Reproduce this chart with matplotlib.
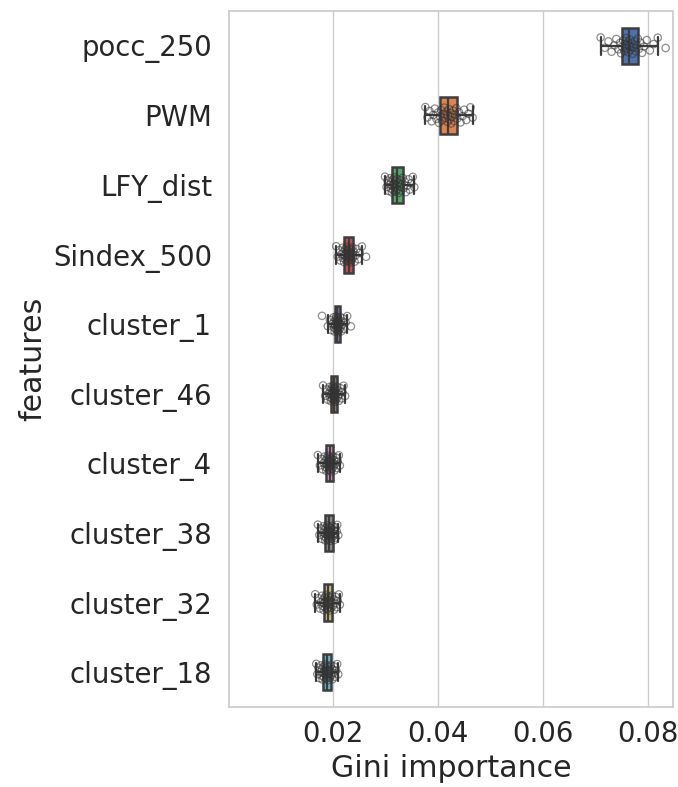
import numpy as np
import seaborn as sns
from matplotlib import pyplot as plt

sns.set_theme(style="whitegrid", font_scale=1.8)

features = ["pocc_250", "PWM", "LFY_dist", "Sindex_500", "cluster_1",
            "cluster_46", "cluster_4", "cluster_38", "cluster_32", "cluster_18"]

# Gini importance per repeat
pocc_250 = [0.0710, 0.0718, 0.0725, 0.0731, 0.0736, 0.0740, 0.0744, 0.0747, 0.0749, 0.0751, 0.0753, 0.0755,
            0.0757, 0.0759, 0.0760, 0.0762, 0.0763, 0.0764, 0.0766, 0.0767, 0.0769, 0.0771, 0.0773, 0.0775,
            0.0777, 0.0779, 0.0781, 0.0783, 0.0786, 0.0789, 0.0793, 0.0798, 0.0804, 0.0811, 0.0819, 0.0834]
pwm = [0.0376, 0.0380, 0.0384, 0.0388, 0.0391, 0.0394, 0.0397, 0.0400, 0.0402, 0.0404, 0.0406, 0.0408,
       0.0410, 0.0412, 0.0414, 0.0416, 0.0418, 0.0419, 0.0421, 0.0422, 0.0424, 0.0425, 0.0427, 0.0429,
       0.0431, 0.0433, 0.0435, 0.0437, 0.0440, 0.0443, 0.0447, 0.0450, 0.0454, 0.0458, 0.0462, 0.0466]
lfy_dist = [0.0299, 0.0302, 0.0304, 0.0306, 0.0308, 0.0309, 0.0310, 0.0311, 0.0312, 0.0313, 0.0314, 0.0315,
            0.0316, 0.0317, 0.0318, 0.0319, 0.0320, 0.0321, 0.0322, 0.0323, 0.0324, 0.0325, 0.0326, 0.0328,
            0.0329, 0.0331, 0.0333, 0.0335, 0.0337, 0.0339, 0.0341, 0.0344, 0.0346, 0.0349, 0.0352, 0.0355]
sindex_500 = [0.0206, 0.0209, 0.0212, 0.0214, 0.0216, 0.0218, 0.0219, 0.0220, 0.0221, 0.0222, 0.0223, 0.0224,
              0.0225, 0.0226, 0.0227, 0.0228, 0.0229, 0.0230, 0.0231, 0.0231, 0.0232, 0.0233, 0.0233, 0.0234,
              0.0235, 0.0236, 0.0237, 0.0238, 0.0239, 0.0241, 0.0243, 0.0245, 0.0248, 0.0251, 0.0255, 0.0263]
cluster_1 = [0.0179, 0.0190, 0.0194, 0.0197, 0.0199, 0.0201, 0.0202, 0.0203, 0.0203, 0.0204, 0.0205, 0.0205,
             0.0206, 0.0206, 0.0207, 0.0207, 0.0208, 0.0208, 0.0209, 0.0209, 0.0210, 0.0210, 0.0211, 0.0211,
             0.0212, 0.0213, 0.0214, 0.0214, 0.0215, 0.0216, 0.0217, 0.0219, 0.0221, 0.0224, 0.0227, 0.0234]
cluster_46 = [0.0181, 0.0185, 0.0188, 0.0190, 0.0192, 0.0193, 0.0194, 0.0195, 0.0196, 0.0196, 0.0197, 0.0198,
              0.0198, 0.0199, 0.0200, 0.0200, 0.0201, 0.0201, 0.0202, 0.0203, 0.0203, 0.0204, 0.0205, 0.0205,
              0.0206, 0.0207, 0.0208, 0.0209, 0.0210, 0.0211, 0.0212, 0.0214, 0.0216, 0.0218, 0.0220, 0.0223]
cluster_4 = [0.0171, 0.0175, 0.0178, 0.0180, 0.0182, 0.0184, 0.0185, 0.0186, 0.0187, 0.0187, 0.0188, 0.0189,
             0.0190, 0.0190, 0.0191, 0.0192, 0.0193, 0.0193, 0.0194, 0.0195, 0.0195, 0.0196, 0.0197, 0.0197,
             0.0198, 0.0199, 0.0200, 0.0201, 0.0202, 0.0203, 0.0204, 0.0206, 0.0207, 0.0209, 0.0211, 0.0213]
cluster_38 = [0.0171, 0.0174, 0.0177, 0.0179, 0.0181, 0.0182, 0.0183, 0.0184, 0.0185, 0.0185, 0.0186, 0.0187,
              0.0188, 0.0189, 0.0189, 0.0190, 0.0191, 0.0191, 0.0192, 0.0193, 0.0193, 0.0194, 0.0195, 0.0196,
              0.0197, 0.0198, 0.0199, 0.0200, 0.0201, 0.0202, 0.0203, 0.0204, 0.0205, 0.0207, 0.0208, 0.0210]
cluster_32 = [0.0166, 0.0169, 0.0172, 0.0175, 0.0177, 0.0179, 0.0180, 0.0181, 0.0182, 0.0183, 0.0184, 0.0185,
              0.0186, 0.0187, 0.0188, 0.0188, 0.0189, 0.0190, 0.0191, 0.0192, 0.0193, 0.0193, 0.0194, 0.0195,
              0.0196, 0.0197, 0.0198, 0.0200, 0.0201, 0.0202, 0.0204, 0.0205, 0.0207, 0.0209, 0.0211, 0.0213]
cluster_18 = [0.0168, 0.0170, 0.0172, 0.0174, 0.0176, 0.0177, 0.0178, 0.0179, 0.0180, 0.0181, 0.0182, 0.0183,
              0.0184, 0.0185, 0.0186, 0.0186, 0.0187, 0.0188, 0.0189, 0.0190, 0.0190, 0.0191, 0.0192, 0.0193,
              0.0194, 0.0195, 0.0196, 0.0197, 0.0198, 0.0199, 0.0201, 0.0202, 0.0204, 0.0206, 0.0208, 0.0210]

values = [pocc_250, pwm, lfy_dist, sindex_500, cluster_1,
          cluster_46, cluster_4, cluster_38, cluster_32, cluster_18]

fig = plt.figure(figsize=(6.78, 7.87), dpi=100)
ax = fig.add_axes([0.338, 0.1017, 0.6546, 0.8843])

pos = np.arange(len(features))
pal = sns.color_palette("deep", len(features))
edge = "#3d3d3d"

bp = ax.boxplot(values, positions=pos, vert=False, widths=0.52, patch_artist=True,
                showfliers=False, zorder=2,
                boxprops=dict(edgecolor=edge, linewidth=1.8),
                whiskerprops=dict(color=edge, linewidth=1.6),
                capprops=dict(color=edge, linewidth=1.6),
                medianprops=dict(color=edge, linewidth=1.6))
for patch, c in zip(bp["boxes"], pal):
    patch.set_facecolor(c)

# strip points, fixed jitter pattern
for i, vals in enumerate(values):
    n = len(vals)
    jit = ((np.arange(n) * 0.618034) % 1 - 0.5) * 0.24
    ax.scatter(vals, i + jit, s=28, facecolors="none", edgecolors="0.2",
               linewidths=0.9, alpha=0.55, zorder=3)

ax.set_yticks(pos)
ax.set_yticklabels(features)
ax.tick_params(axis="y", pad=6.4)
ax.set_ylim(len(features) - 0.5, -0.5)
ax.set_xlim(0.0002, 0.0848)
ax.set_xticks([0.02, 0.04, 0.06, 0.08])
ax.grid(axis="y", visible=False)
ax.set_xlabel("Gini importance")
ax.set_ylabel("features")

fig.savefig("out.png", dpi=100)
